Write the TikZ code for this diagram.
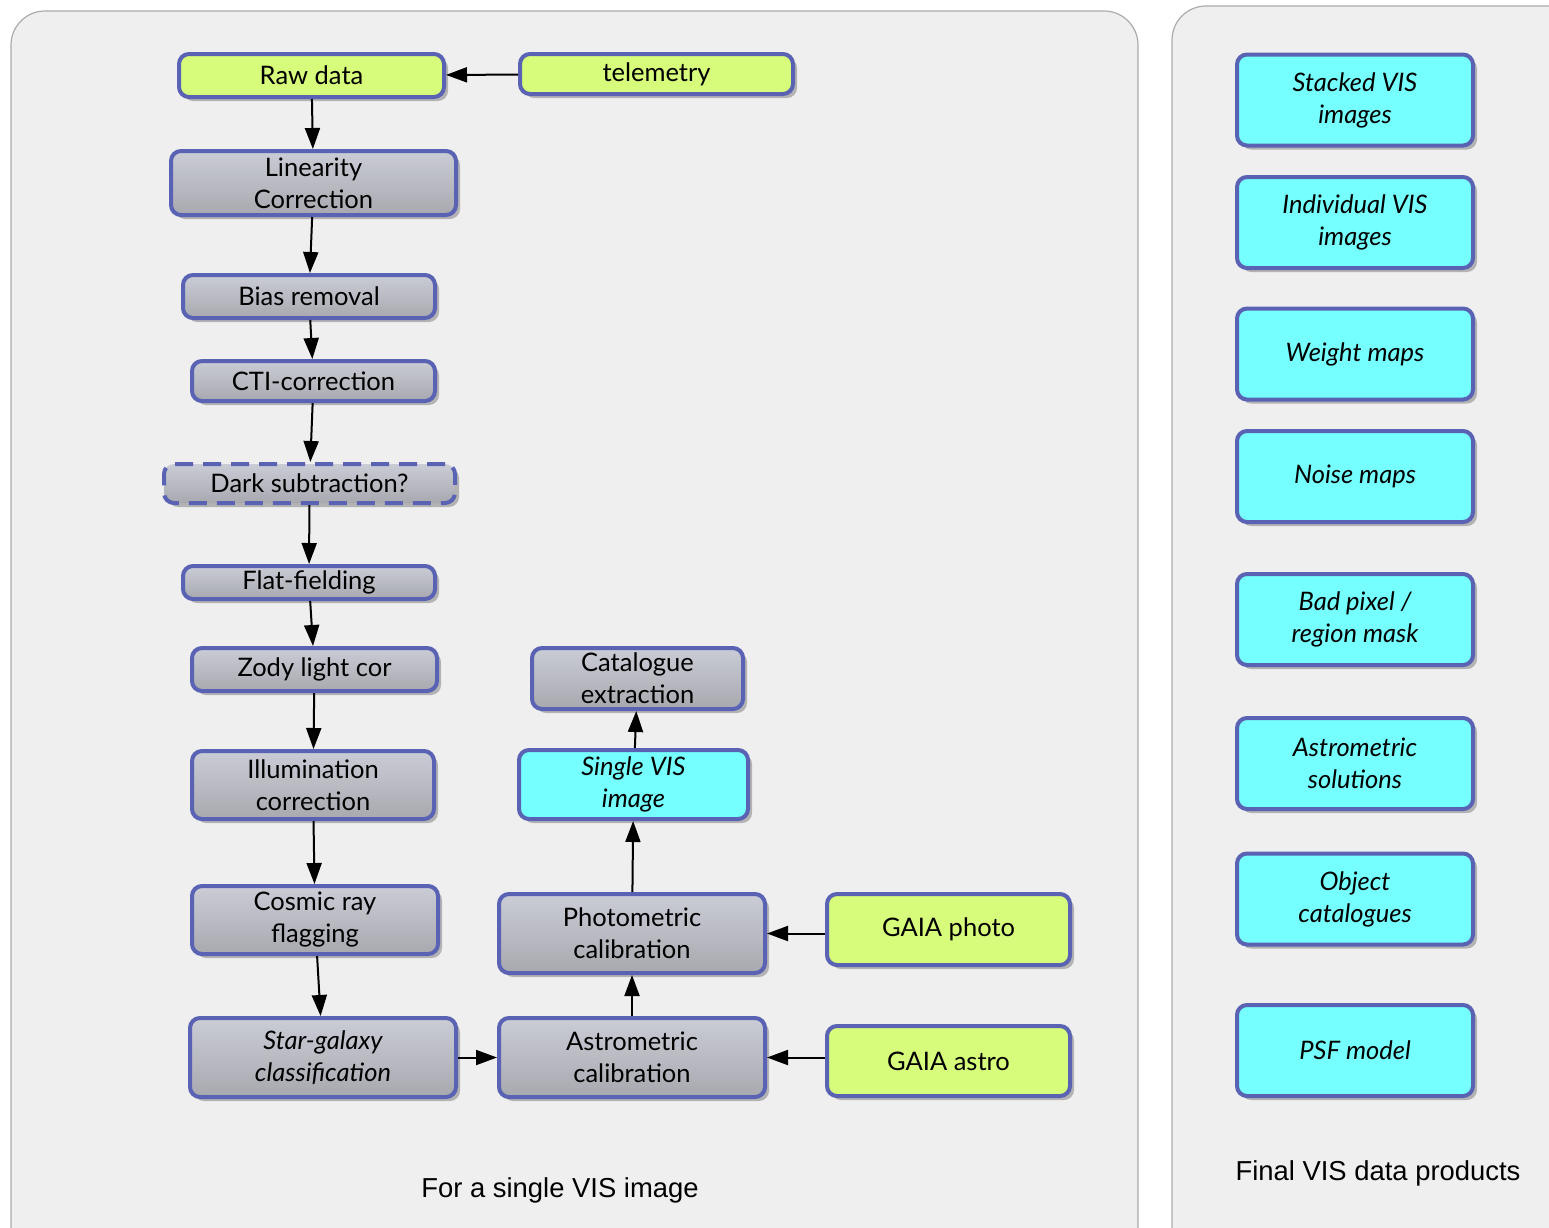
\documentclass[tikz,border=0pt]{standalone}
\usepackage{fontspec}
\setmainfont{Lato}
\newfontfamily\labelfont{Liberation Sans}
\usetikzlibrary{shadows,arrows.meta}

\definecolor{panelfill}{HTML}{EFEFEF}
\definecolor{panelline}{HTML}{ABABAB}
\definecolor{boxline}{HTML}{5A63B3}
\definecolor{grayTop}{HTML}{CACCD6}
\definecolor{grayBot}{HTML}{A8A9AF}
\definecolor{inputfill}{HTML}{D7FB7A}
\definecolor{outputfill}{HTML}{75FFFF}

\tikzset{
  base/.style={draw=boxline, line width=4pt, rounded corners=10pt, align=center,
    inner sep=0pt, font=\fontsize{25.5}{32}\selectfont,
    drop shadow={shadow xshift=4pt, shadow yshift=-4pt, opacity=0.25, fill=black}},
  procbox/.style={base, top color=grayTop, bottom color=grayBot},
  inbox/.style={base, fill=inputfill},
  outbox/.style={base, fill=outputfill, font=\fontsize{25.5}{32}\selectfont\itshape},
  flow/.style={line width=2pt, -{Triangle[length=21pt,width=15pt]}},
  panel/.style={draw=panelline, fill=panelfill, line width=1.2pt, rounded corners=34pt},
  caption/.style={font=\labelfont\fontsize{27.4}{32}\selectfont, inner sep=0pt},
}

\begin{document}
\begin{tikzpicture}[x=1pt, y=-1pt]
  % page and the two panels
  \fill[white] (0,0) rectangle (1549,1227);
  \useasboundingbox (0,0) rectangle (1549,1227);
  \draw[panel] (11,11) rectangle (1138,1262);
  \draw[panel] (1172,6) rectangle (1590,1262);

  % processing chain for one exposure
  \node[inbox, minimum width=265pt, minimum height=43pt] (raw) at (311.5,75.5) {Raw data};
  \node[inbox, minimum width=273pt, minimum height=40pt] (tele) at (656.5,74) {telemetry};
  \node[procbox, minimum width=285pt, minimum height=64pt] (lin) at (313.5,183) {Linearity\\Correction};
  \node[procbox, minimum width=252pt, minimum height=43pt] (bias) at (309,296.5) {Bias removal};
  \node[procbox, minimum width=243pt, minimum height=40pt] (cti) at (313.5,381) {CTI-correction};
  \node[procbox, dash pattern=on 18pt off 10pt, minimum width=291pt, minimum height=39pt] (dark) at (309.5,483.5) {Dark subtraction?};
  \node[procbox, minimum width=252pt, minimum height=33pt] (flat) at (309,582.5) {Flat-fielding};
  \node[procbox, minimum width=245pt, minimum height=43pt] (zody) at (314.5,669.5) {Zody light cor};
  \node[procbox, minimum width=242pt, minimum height=68pt] (illum) at (313,785) {Illumination\\correction};
  \node[procbox, minimum width=246pt, minimum height=68pt] (cosmic) at (315,920) {Cosmic ray\\flagging};
  \node[procbox, font=\fontsize{25.5}{32}\selectfont\itshape, minimum width=266pt, minimum height=79pt] (star) at (323,1057.5) {Star-galaxy\\classification};
  \node[procbox, minimum width=266pt, minimum height=79pt] (astro) at (632,1057.5) {Astrometric\\calibration};
  \node[procbox, minimum width=266pt, minimum height=79pt] (photo) at (632,933.5) {Photometric\\calibration};
  \node[outbox, minimum width=229pt, minimum height=69pt] (single) at (633.5,784.5) {Single VIS\\image};
  \node[procbox, minimum width=211pt, minimum height=61pt] (cat) at (637.5,678.5) {Catalogue\\extraction};
  \node[inbox, minimum width=243pt, minimum height=71pt] (gaiap) at (948.5,929.5) {GAIA photo};
  \node[inbox, minimum width=243pt, minimum height=70pt] (gaiaa) at (948.5,1061) {GAIA astro};

  \draw[flow] (tele) -- (raw);
  \draw[flow] (raw) -- (lin);
  \draw[flow] (lin) -- (bias);
  \draw[flow] (bias) -- (cti);
  \draw[flow] (cti) -- (dark);
  \draw[flow] (dark) -- (flat);
  \draw[flow] (flat) -- (zody);
  \draw[flow] (zody) -- (illum);
  \draw[flow] (illum) -- (cosmic);
  \draw[flow] (cosmic) -- (star);
  \draw[flow] (star) -- (astro);
  \draw[flow] (astro) -- (photo);
  \draw[flow] (photo) -- (single);
  \draw[flow] (single) -- (cat);
  \draw[flow] (gaiap.west |- photo) -- (photo);
  \draw[flow] (gaiaa.west |- astro) -- (astro);

  % final data products
  \tikzset{prod/.style={outbox, minimum width=236pt, minimum height=91pt}}
  \node[prod] (stacked) at (1355,100) {Stacked VIS\\images};
  \node[prod] (indiv) at (1355,222.5) {Individual VIS\\images};
  \node[prod] (weight) at (1355,354) {Weight maps};
  \node[prod] (noise) at (1355,476.5) {Noise maps};
  \node[prod] (badpix) at (1355,619.5) {Bad pixel /\\region mask};
  \node[prod] (astsol) at (1355,763.5) {Astrometric\\solutions};
  \node[prod] (objcat) at (1355,899) {Object\\catalogues};
  \node[prod] (psf) at (1355,1050.5) {PSF model};

  % panel captions
  \node[caption] (capleft) at (560,1190) {For a single VIS image};
  \node[caption] (capright) at (1378,1173) {Final VIS data products};
\end{tikzpicture}
\end{document}
